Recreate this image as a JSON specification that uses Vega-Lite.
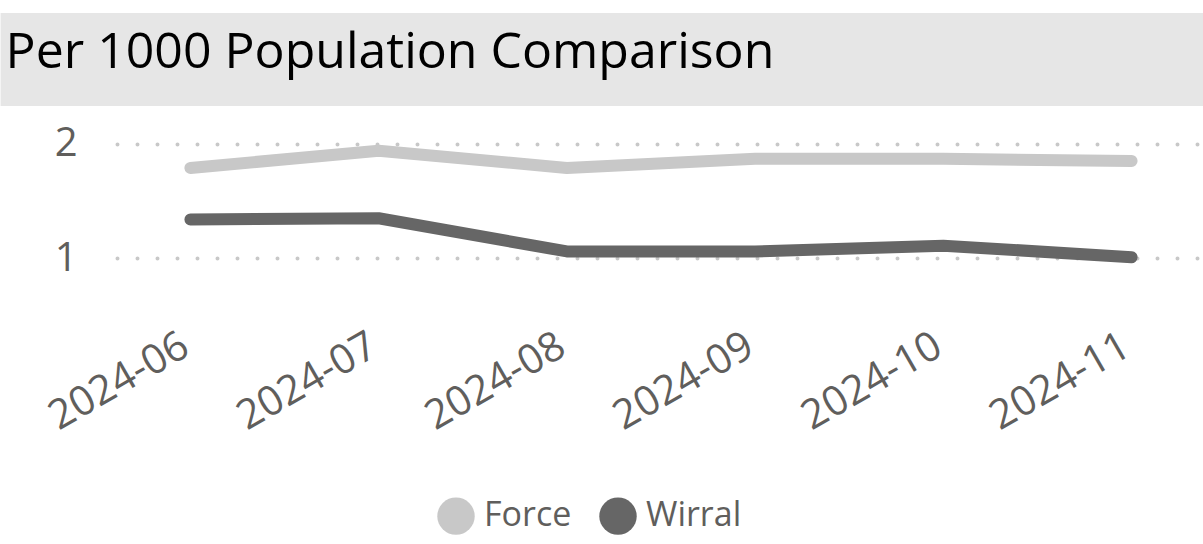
{
  "$schema": "https://vega.github.io/schema/vega-lite/v6.json",
  "background": "white",
  "padding": {"top": 13, "left": 0, "right": 0, "bottom": 0},
  "spacing": 15,
  "config": {
    "font": "Open Sans",
    "view": {"stroke": null}
  },
  "vconcat": [
    {
      "width": 1088,
      "height": 93,
      "data": {"values": [{"title": "Per 1000 Population Comparison", "start": -0.107, "end": 1.002}]},
      "encoding": {
        "x": {"field": "start", "type": "quantitative", "scale": {"domain": [0, 1], "nice": false, "zero": false}, "axis": null}
      },
      "layer": [
        {
          "mark": {"type": "rect", "color": "#e6e6e6", "clip": false},
          "encoding": {"x2": {"field": "end"}}
        },
        {
          "mark": {"type": "text", "align": "left", "baseline": "middle", "font": "Open Sans", "fontSize": 50, "color": "#000000", "dx": 5, "dy": -7},
          "encoding": {"text": {"field": "title", "type": "nominal"}}
        }
      ]
    },
    {
      "width": 1088,
      "height": 194.5,
      "data": {"values": [
        {"month": "2024-06", "series": "Force", "value": 1.79},
        {"month": "2024-07", "series": "Force", "value": 1.94},
        {"month": "2024-08", "series": "Force", "value": 1.79},
        {"month": "2024-09", "series": "Force", "value": 1.87},
        {"month": "2024-10", "series": "Force", "value": 1.87},
        {"month": "2024-11", "series": "Force", "value": 1.85},
        {"month": "2024-06", "series": "Wirral", "value": 1.34},
        {"month": "2024-07", "series": "Wirral", "value": 1.35},
        {"month": "2024-08", "series": "Wirral", "value": 1.06},
        {"month": "2024-09", "series": "Wirral", "value": 1.06},
        {"month": "2024-10", "series": "Wirral", "value": 1.11},
        {"month": "2024-11", "series": "Wirral", "value": 1.01}
      ]},
      "mark": {"type": "line", "strokeWidth": 12, "strokeCap": "round", "strokeJoin": "round"},
      "encoding": {
        "x": {
          "field": "month", "type": "ordinal",
          "scale": {"type": "point", "padding": 0.39},
          "axis": {"title": null, "labelAngle": -30, "labelAlign": "right", "labelBaseline": "top", "labelFontSize": 41, "labelColor": "#605E5C", "labelPadding": 10, "labelOffset": -15, "ticks": false, "domain": false, "grid": false}
        },
        "y": {
          "field": "value", "type": "quantitative",
          "scale": {"domain": [0.5, 2.2], "zero": false, "nice": false},
          "axis": {"title": null, "values": [1, 2], "labelFontSize": 40, "labelColor": "#605E5C", "labelPadding": 40, "ticks": false, "domain": false, "minExtent": 115, "maxExtent": 115, "gridColor": "#c8c8c8", "gridDash": [0, 20], "gridCap": "round", "gridWidth": 4}
        },
        "color": {
          "field": "series", "type": "nominal",
          "scale": {"domain": ["Force", "Wirral"], "range": ["#c8c8c8", "#666666"]},
          "legend": {
            "title": null, "orient": "none", "legendX": 320, "legendY": 484, "direction": "horizontal", "padding": 0,
            "symbolType": "circle", "symbolSize": 1400, "labelFontSize": 34, "labelColor": "#605E5C", "labelOffset": 9, "columnPadding": 27,
            "encode": {"symbols": {"update": {"fill": {"scale": "color", "field": "value"}, "strokeWidth": {"value": 0}}}}
          }
        }
      }
    }
  ]
}
